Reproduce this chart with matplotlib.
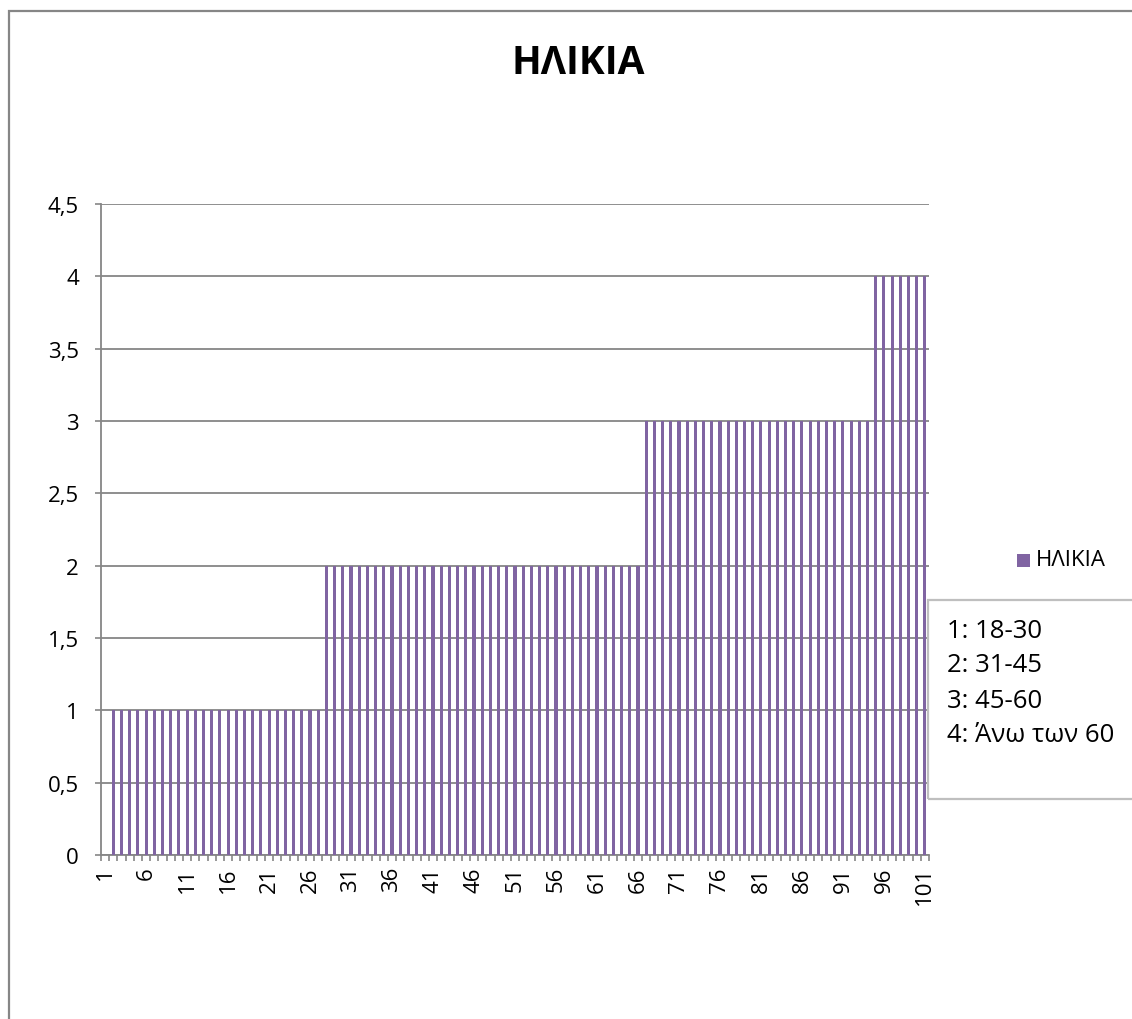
import numpy as np
import matplotlib
matplotlib.use("Agg")
import matplotlib.pyplot as plt
from matplotlib.patches import Rectangle
from matplotlib.ticker import FixedLocator

plt.rcParams['font.family'] = ['Open Sans', 'DejaVu Sans']

W, H = 1132, 1020

title = "ΗΛΙΚΙΑ"
series_name = "ΗΛΙΚΙΑ"
categories = list(range(1, 102))
values = [None,
          1, 1, 1, 1, 1, 1, 1, 1, 1, 1, 1, 1, 1, 1, 1, 1, 1, 1, 1, 1, 1, 1, 1, 1, 1, 1,
          2, 2, 2, 2, 2, 2, 2, 2, 2, 2, 2, 2, 2, 2, 2, 2, 2, 2, 2, 2,
          2, 2, 2, 2, 2, 2, 2, 2, 2, 2, 2, 2, 2, 2, 2, 2, 2, 2, 2,
          3, 3, 3, 3, 3, 3, 3, 3, 3, 3, 3, 3, 3, 3,
          3, 3, 3, 3, 3, 3, 3, 3, 3, 3, 3, 3, 3, 3,
          4, 4, 4, 4, 4, 4, 4]
xtick_shown = [1, 6, 11, 16, 21, 26, 31, 36, 41, 46, 51, 56, 61, 66, 71, 76, 81, 86, 91, 96, 101]
yticks = [0, 0.5, 1, 1.5, 2, 2.5, 3, 3.5, 4, 4.5]
ytick_labels = ["0", "0,5", "1", "1,5", "2", "2,5", "3", "3,5", "4", "4,5"]
note_lines = ["1: 18-30", "2: 31-45", "3: 45-60", "4: Άνω των 60"]

bar_color = "#8064A2"
grid_color = "#868686"

fig = plt.figure(figsize=(W / 100, H / 100), dpi=100)
fig.patch.set_facecolor("white")

def fx(x):
    return x / W

def fy(y):
    return 1 - y / H

# chart area border (cropped on right/bottom)
fig.patches.append(Rectangle((fx(9), fy(1030)), fx(1140) - fx(9), fy(12) - fy(1030),
                             transform=fig.transFigure, fill=False,
                             edgecolor=grid_color, linewidth=1.6, zorder=0))

left, right, top, bottom = 101, 929, 205, 856
ax = fig.add_axes([fx(left), fy(bottom), fx(right) - fx(left), fy(top) - fy(bottom)])

vals = np.array([np.nan if v is None else v for v in values], dtype=float)
x = np.array(categories, dtype=float)
ax.bar(x, vals, width=0.38, color=bar_color, zorder=3)

ax.set_xlim(0.5, len(categories) + 0.5)
ax.set_ylim(0, 4.5)

ax.set_yticks(yticks)
ax.set_yticklabels(ytick_labels)
ax.yaxis.grid(True, color=grid_color, linewidth=1.3)
ax.set_axisbelow(True)

ax.xaxis.set_major_locator(FixedLocator(xtick_shown))
ax.set_xticklabels([str(c) for c in xtick_shown], rotation=90)
ax.xaxis.set_minor_locator(FixedLocator(np.arange(0.5, len(categories) + 1, 1.0)))
ax.tick_params(axis='x', which='major', length=0, pad=8, labelsize=16, colors='black')
ax.tick_params(axis='x', which='minor', length=4, width=1.2, color=grid_color, direction='out')
ax.tick_params(axis='y', which='major', length=4, width=1.2, color=grid_color, pad=12,
               labelsize=16, labelcolor='black')

for s in ['top', 'right']:
    ax.spines[s].set_visible(False)
for s in ['left', 'bottom']:
    ax.spines[s].set_color(grid_color)
    ax.spines[s].set_linewidth(1.3)

# title
fig.text(fx(578), fy(64), title, ha='center', va='center', fontsize=28, fontweight='bold')

# legend entry
fig.patches.append(Rectangle((fx(1017), fy(568)), fx(13), 13 / H, transform=fig.transFigure,
                             facecolor=bar_color, edgecolor='none'))
fig.text(fx(1036), fy(561), series_name, ha='left', va='center', fontsize=16)

# note box
fig.patches.append(Rectangle((fx(928), fy(800)), fx(1140) - fx(928), fy(601) - fy(800),
                             transform=fig.transFigure, fill=False,
                             edgecolor="#BFBFBF", linewidth=1.6))
for i, line in enumerate(note_lines):
    fig.text(fx(947), fy(631 + i * 35), line, ha='left', va='center', fontsize=18.5)

fig.savefig("out.png", dpi=100, facecolor="white")
